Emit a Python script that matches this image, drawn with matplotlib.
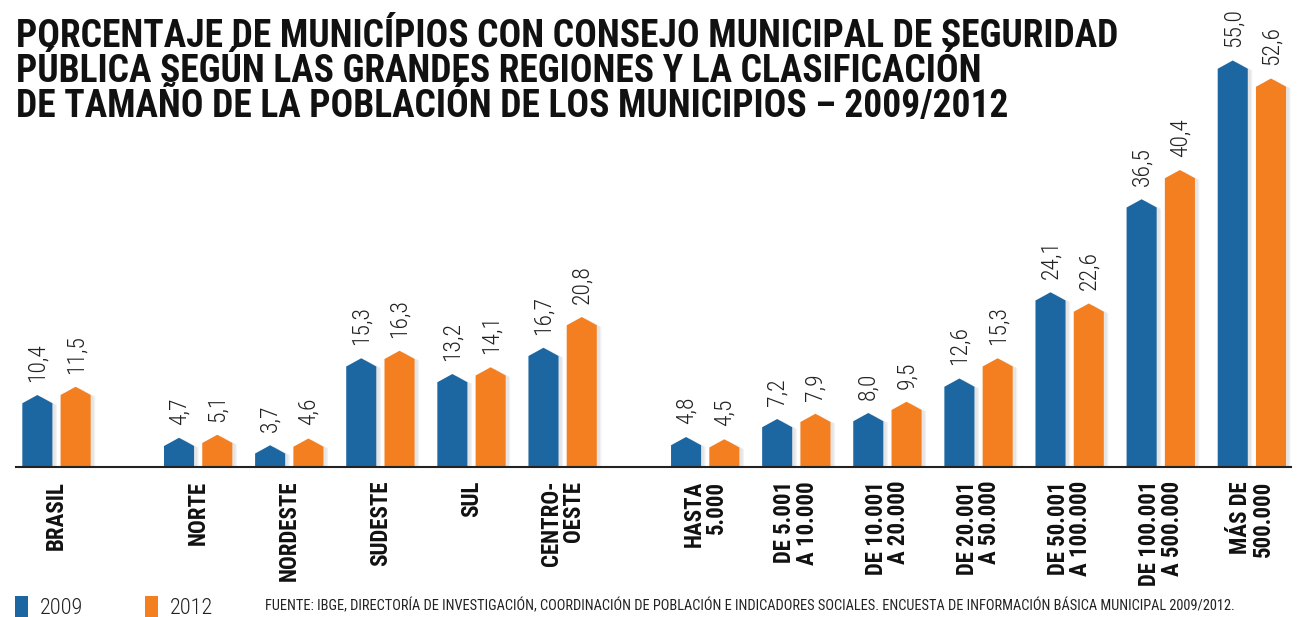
import numpy as np
import matplotlib
matplotlib.use('Agg')
import matplotlib.pyplot as plt
from matplotlib.patches import Polygon

plt.rcParams['font.family'] = ['Roboto Condensed', 'Archivo Narrow', 'Liberation Sans', 'DejaVu Sans']

categorias = ['BRASIL', 'NORTE', 'NORDESTE', 'SUDESTE', 'SUL', 'CENTRO-\nOESTE',
              'HASTA\n5.000', 'DE 5.001\nA 10.000', 'DE 10.001\nA 20.000',
              'DE 20.001\nA 50.000', 'DE 50.001\nA 100.000', 'DE 100.001\nA 500.000',
              'MÁS DE\n500.000']
v2009 = [10.4, 4.7, 3.7, 15.3, 13.2, 16.7, 4.8, 7.2, 8.0, 12.6, 24.1, 36.5, 55.0]
v2012 = [11.5, 5.1, 4.6, 16.3, 14.1, 20.8, 4.5, 7.9, 9.5, 15.3, 22.6, 40.4, 52.6]
anios = ['2009', '2012']

azul = '#1c66a1'
naranja = '#f47f20'

# group positions: Brasil, 5 regions, 7 size classes
x = np.concatenate([[0], 1.555 + np.arange(5), 7.12 + np.arange(7)])

fig = plt.figure(figsize=(13.12, 6.17), dpi=100)
ax = fig.add_axes([0, 150 / 617, 1, 467 / 617])
base = 0.8
ax.set_xlim(-0.62, 13.78)
ax.set_ylim(base, base + 467 / 7.5)
ax.axis('off')

w = 0.33
cap = 1.1


def barra(xc, v, color):
    l, r = xc - w / 2, xc + w / 2
    # soft shadow
    for k, a in [(0.05, 0.10), (0.035, 0.12)]:
        sh = Polygon([(l + k, 0), (r + k, 0), (r + k, v - cap - 0.2), (xc + k, v - 0.2),
                      (l + k, v - cap - 0.2)], closed=True, fc='#888888', ec='none',
                     alpha=a, zorder=1)
        ax.add_patch(sh)
    p = Polygon([(l, 0), (r, 0), (r, v - cap), (xc, v), (l, v - cap)], closed=True,
                fc=color, ec='none', zorder=2)
    ax.add_patch(p)


def etiqueta(xc, v):
    ax.annotate(f'{v:.1f}'.replace('.', ','), (xc, v), xytext=(0, 9.5),
                textcoords='offset points', rotation=90, ha='center', va='bottom',
                fontsize=17, fontweight='light', color='#222222')


for xc, a, b in zip(x, v2009, v2012):
    barra(xc - 0.21, a, azul)
    barra(xc + 0.21, b, naranja)
    etiqueta(xc - 0.21, a)
    etiqueta(xc + 0.21, b)

ax.plot([-0.445, 13.55], [base, base], color='#222222', lw=1.5, zorder=3, clip_on=False)

for xc, lab in zip(x, categorias):
    ax.annotate(lab, (xc, base), xytext=(0, -10), textcoords='offset points',
                rotation=90, ha='center', va='top', multialignment='right',
                fontsize=16.5, fontweight='bold', color='#111111',
                linespacing=0.98, annotation_clip=False)

fig.text(16 / 1312, 1 - 18 / 617,
         'PORCENTAJE DE MUNICÍPIOS CON CONSEJO MUNICIPAL DE SEGURIDAD\n'
         'PÚBLICA SEGÚN LAS GRANDES REGIONES Y LA CLASIFICACIÓN\n'
         'DE TAMAÑO DE LA POBLACIÓN DE LOS MUNICIPIOS – 2009/2012',
         ha='left', va='top', fontsize=27, fontweight='heavy', linespacing=0.92,
         color='#111111')

# legend
for i, (lab, col) in enumerate(zip(anios, [azul, naranja])):
    x0 = 15 + i * 130
    fig.patches.append(plt.Rectangle((x0 / 1312, 0), 13 / 1312, 21 / 617,
                                     transform=fig.transFigure, fc=col, ec='none'))
    fig.text((x0 + 25) / 1312, -2 / 617, lab, ha='left', va='bottom', fontsize=16,
             fontweight='light', color='#222222')

fig.text(265 / 1312, 11 / 617,
         'FUENTE: IBGE, DIRECTORÍA DE INVESTIGACIÓN, COORDINACIÓN DE POBLACIÓN E '
         'INDICADORES SOCIALES. ENCUESTA DE INFORMACIÓN BÁSICA MUNICIPAL 2009/2012.',
         ha='left', va='center', fontsize=10.4, color='#222222')

fig.savefig('out.png', dpi=100)
